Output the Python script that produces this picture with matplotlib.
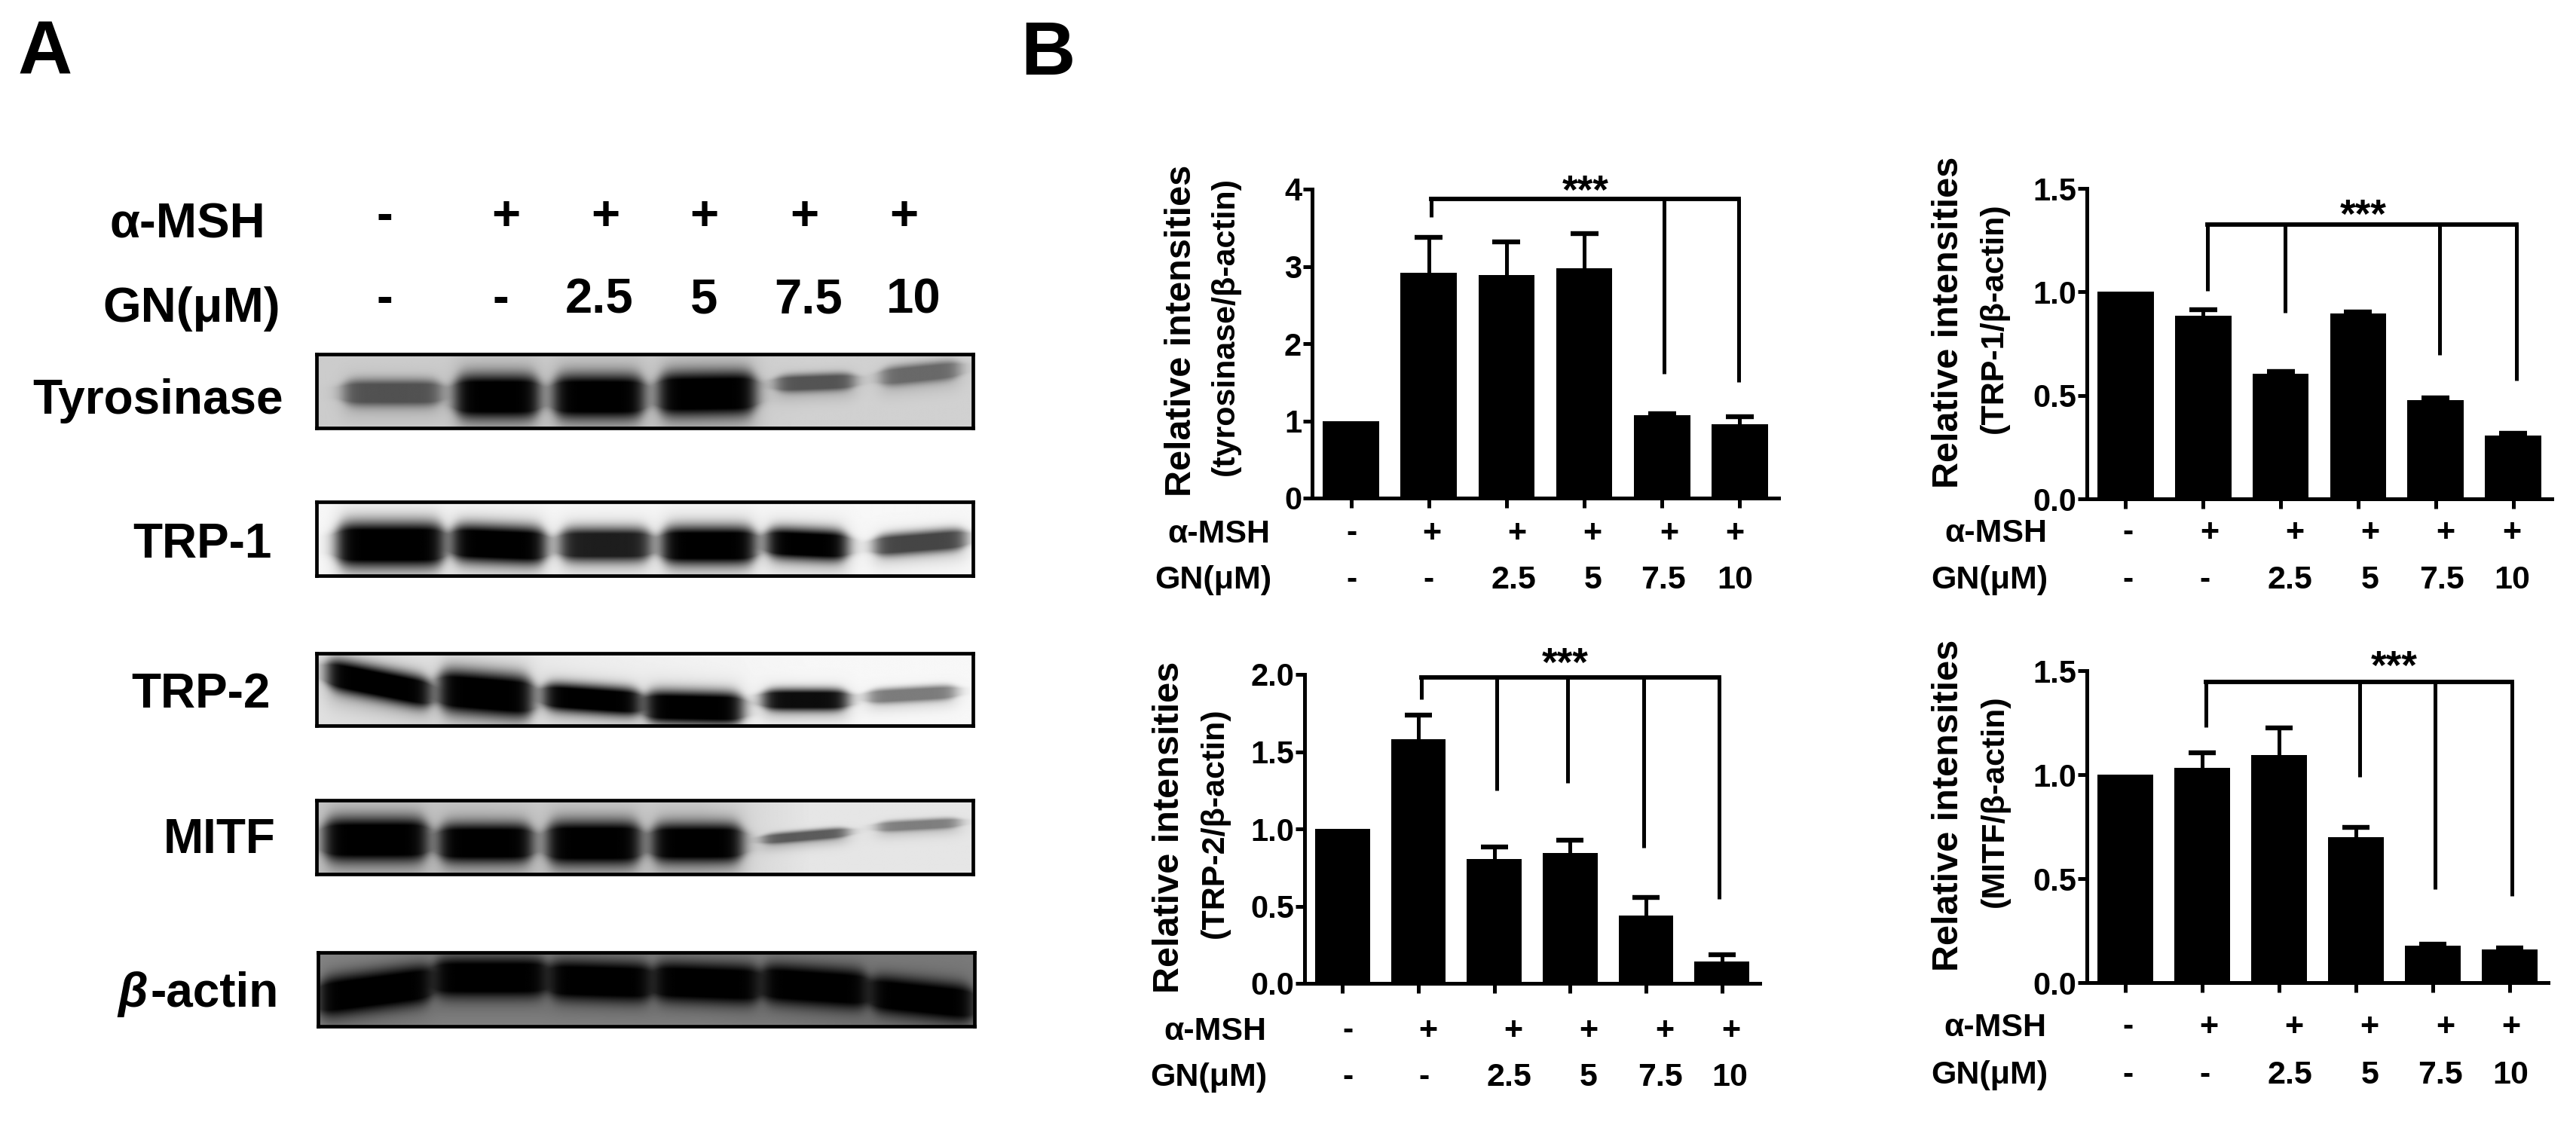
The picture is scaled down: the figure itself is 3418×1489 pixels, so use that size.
import numpy as np
import matplotlib
matplotlib.use('Agg')
import matplotlib.pyplot as plt

plt.rcParams['font.family'] = ['Liberation Sans', 'DejaVu Sans']
plt.rcParams['font.weight'] = 'bold'

W, H = 3418, 1489

# --- data ---
msh_labels = ['-', '+', '+', '+', '+', '+']
gn_labels = ['-', '-', '2.5', '5', '7.5', '10']

tyr_values = [1.0, 2.92, 2.89, 2.98, 1.07, 0.96]
tyr_tops = [1.0, 3.38, 3.32, 3.42, 1.09, 1.05]
trp1_values = [1.0, 0.885, 0.603, 0.896, 0.476, 0.305]
trp1_tops = [1.0, 0.914, 0.615, 0.902, 0.487, 0.315]
trp2_values = [1.0, 1.58, 0.806, 0.842, 0.438, 0.143]
trp2_tops = [1.0, 1.737, 0.882, 0.925, 0.557, 0.183]
mitf_values = [1.0, 1.033, 1.094, 0.698, 0.176, 0.161]
mitf_tops = [1.0, 1.104, 1.225, 0.746, 0.186, 0.167]

# bracket: level, then (category, lower end) for each leg
tyr_bracket = (3.87, [(1.03, 3.64), (4.03, 1.61), (4.99, 1.50)])
trp1_bracket = (1.324, [(1.06, 1.004), (2.06, 0.90), (4.05, 0.696), (5.04, 0.57)])
trp2_bracket = (1.98, [(1.04, 1.84), (2.03, 1.248), (2.97, 1.30), (3.97, 0.876), (4.96, 0.547)])
mitf_bracket = (1.444, [(1.05, 1.23), (3.05, 0.99), (4.03, 0.451), (5.03, 0.417)])

# blot lanes: x start, x end, y left, y right, half height, darkness (fractions of the frame)
tyr_bands = [(.04, .19, .52, .52, .12, .6), (.21, .34, .57, .57, .2, 1), (.36, .50, .57, .57, .2, 1),
             (.52, .67, .54, .52, .2, 1), (.70, .82, .40, .36, .08, .6), (.86, .98, .31, .20, .09, .5)]
trp1_bands = [(.03, .195, .58, .58, .2, 1), (.205, .35, .55, .60, .17, 1), (.37, .51, .58, .58, .15, .88),
              (.525, .67, .59, .59, .17, 1), (.685, .81, .55, .60, .14, 1), (.85, .99, .60, .50, .1, .72)]
trp2_bands = [(.015, .175, .27, .56, .15, 1), (.185, .33, .50, .61, .2, 1), (.345, .495, .585, .68, .13, 1),
              (.50, .65, .73, .76, .15, 1), (.68, .81, .64, .64, .1, .95), (.84, .975, .60, .53, .07, .5)]
mitf_bands = [(.01, .17, .53, .53, .2, 1), (.185, .33, .575, .575, .18, 1), (.35, .495, .575, .575, .2, 1),
              (.51, .65, .575, .575, .18, 1), (.68, .81, .53, .43, .05, .6), (.855, .98, .36, .30, .05, .45)]
actin_bands = [(.0, .175, .62, .415, .18, 1), (.175, .35, .34, .34, .18, 1), (.35, .51, .37, .41, .18, 1),
               (.51, .675, .39, .44, .18, 1), (.675, .84, .41, .51, .18, 1), (.84, 1.0, .55, .70, .17, 1)]

tyr_bg = [.80, .80, .80, .80, .82, .82]
trp1_bg = [.97, .97, .97, .97, .97, .97]
trp2_bg = [.88, .90, .93, .95, .97, .97]
mitf_bg = [.78, .78, .80, .80, .90, .90]
actin_bg = [.52, .52, .52, .52, .50, .48]


def px_text(x, y, s, **kw):
    kw.setdefault('va', 'baseline')
    kw.setdefault('ha', 'center')
    kw.setdefault('fontweight', 'bold')
    kw.setdefault('color', 'black')
    fig.text(x / W, 1 - y / H, s, **kw)


def px_axes(left, top, right, bottom):
    return fig.add_axes([left / W, 1 - bottom / H, (right - left) / W, (bottom - top) / H])


def draw_blot(frame, bands, bg):
    ax = px_axes(*frame)
    ny, nx = 200, 900
    xx, yy = np.meshgrid(np.linspace(0, 1, nx), np.linspace(0, 1, ny))
    back = np.interp(xx, np.linspace(.08, .92, 6), bg)
    keep = np.ones_like(xx)
    for x0, x1, yl, yr, hh, dark in bands:
        soft = 0.014
        win = 0.5 * (np.tanh((xx - x0) / soft) - np.tanh((xx - x1) / soft))
        yc = yl + (yr - yl) * (xx - x0) / (x1 - x0)
        core = np.exp(-(np.abs(yy - yc) / (1.45 * hh * (0.5 + 0.5 * win) + 1e-3)) ** 2.6)
        halo = np.exp(-((yy - yc - 0.07) / (hh * 2.2)) ** 2)
        keep *= 1 - dark * win * np.clip(1.1 * core + 0.3 * halo, 0, 1)
    ax.imshow(back * keep, cmap='gray', vmin=0, vmax=1, aspect='auto', extent=[0, 1, 1, 0],
              interpolation='bilinear')
    ax.set_xticks([])
    ax.set_yticks([])
    for s in ax.spines.values():
        s.set_linewidth(3.4)


def draw_bars(rect, ymax, yticks, fmt, values, tops, bracket):
    ax = px_axes(*rect)
    x = np.arange(6)
    ax.bar(x, values, width=0.725, color='black', zorder=3)
    # only the upper half of each error bar is shown
    ax.vlines(x, values, tops, color='black', lw=3.6, zorder=2)
    has_err = np.array(tops) > np.array(values)
    ax.hlines(np.array(tops)[has_err], x[has_err] - 0.18, x[has_err] + 0.18, color='black', lw=4.6, zorder=2)
    ax.set_xlim(-0.5, 5.5)
    ax.set_ylim(0, ymax)
    ax.set_xticks(x)
    ax.set_xticklabels([])
    ax.set_yticks(yticks)
    ax.set_yticklabels([fmt % t for t in yticks], fontsize=30, fontweight='bold')
    ax.tick_params(axis='x', length=9, width=3.6)
    ax.tick_params(axis='y', length=9, width=3.6, pad=1)
    ax.spines['top'].set_visible(False)
    ax.spines['right'].set_visible(False)
    ax.spines['left'].set_linewidth(3.6)
    ax.spines['bottom'].set_linewidth(3.6)
    ax.patch.set_alpha(0)
    level, legs = bracket
    ax.plot([legs[0][0], legs[-1][0]], [level, level], color='black', lw=4.2, solid_capstyle='projecting',
            clip_on=False, zorder=4)
    for cx, low in legs:
        ax.plot([cx, cx], [level, low], color='black', lw=3.6, solid_capstyle='butt', clip_on=False, zorder=4)


fig = plt.figure(figsize=(W / 100, H / 100), dpi=100, facecolor='white')

# panel letters
px_text(60, 99, 'A', fontsize=72)
px_text(1390, 99, 'B', fontsize=72)

# panel A labels
px_text(352, 315, 'α-MSH', ha='right', fontsize=47)
px_text(372, 427, 'GN(μM)', ha='right', fontsize=47)
for xp, s in zip([510, 671, 803, 934, 1067, 1199], msh_labels):
    px_text(xp, 305, s, fontsize=47)
for xp, s in zip([510, 664, 795, 934, 1073, 1212], gn_labels):
    px_text(xp, 415, s, fontsize=47)

px_text(376, 549, 'Tyrosinase', ha='right', fontsize=46)
px_text(361, 740, 'TRP-1', ha='right', fontsize=46)
px_text(359, 939, 'TRP-2', ha='right', fontsize=46)
px_text(366, 1132, 'MITF', ha='right', fontsize=46)
px_text(370, 1336, '-actin', ha='right', fontsize=46)
px_text(176, 1336, 'β', fontsize=46, style='italic')

draw_blot((420, 470, 1291, 568), tyr_bands, tyr_bg)
draw_blot((420, 666, 1291, 764), trp1_bands, trp1_bg)
draw_blot((420, 867, 1291, 963), trp2_bands, trp2_bg)
draw_blot((420, 1062, 1291, 1160), mitf_bands, mitf_bg)
draw_blot((422, 1264, 1293, 1362), actin_bands, actin_bg)

# panel B bar charts
draw_bars((1741, 251, 2360, 661), 4, [0, 1, 2, 3, 4], '%d', tyr_values, tyr_tops, tyr_bracket)
draw_bars((2769, 250, 3386, 662), 1.5, [0, 0.5, 1.0, 1.5], '%.1f', trp1_values, trp1_tops, trp1_bracket)
draw_bars((1731, 895, 2335, 1305), 2.0, [0, 0.5, 1.0, 1.5, 2.0], '%.1f', trp2_values, trp2_tops, trp2_bracket)
draw_bars((2769, 890, 3381, 1304), 1.5, [0, 0.5, 1.0, 1.5], '%.1f', mitf_values, mitf_tops, mitf_bracket)

# y titles
for xp, yp, s in [(1568, 439, 'Relative intensities'), (2585, 428, 'Relative intensities'),
                  (1551, 1098, 'Relative intensities'), (2585, 1069, 'Relative intensities')]:
    px_text(xp, yp, s, rotation=90, va='center', fontsize=35)
for xp, yp, s in [(1626, 433, '(tyrosinase/β-actin)'), (2646, 422, '(TRP-1/β-actin)'),
                  (1612, 1092, '(TRP-2/β-actin)'), (2647, 1063, '(MITF/β-actin)')]:
    px_text(xp, yp, s, rotation=90, va='center', fontsize=31)

# stars
for xp, yp in [(2104, 270), (3136, 302), (2077, 897), (3177, 901)]:
    px_text(xp, yp, '***', fontsize=38)

# rows under the bars
rows = [
    (1685, 720, 1687, 781, [1794, 1900, 2013, 2113, 2215, 2302], [1794, 1895, 2008, 2114, 2207, 2302]),
    (2716, 719, 2717, 781, [2824, 2932, 3045, 3145, 3245, 3333], [2824, 2926, 3038, 3145, 3240, 3333]),
    (1680, 1380, 1681, 1441, [1789, 1895, 2008, 2108, 2209, 2297], [1789, 1890, 2002, 2108, 2203, 2295]),
    (2715, 1375, 2717, 1438, [2824, 2931, 3044, 3144, 3245, 3332], [2824, 2926, 3038, 3145, 3238, 3331]),
]
for mx, my, gx, gy, mxs, gxs in rows:
    px_text(mx, my, 'α-MSH', ha='right', fontsize=31)
    px_text(gx, gy, 'GN(μM)', ha='right', fontsize=31)
    for xp, s in zip(mxs, msh_labels):
        px_text(xp, my - 1, s, fontsize=31)
    for xp, s in zip(gxs, gn_labels):
        px_text(xp, gy, s, fontsize=31)

fig.savefig('out.png', dpi=100)
